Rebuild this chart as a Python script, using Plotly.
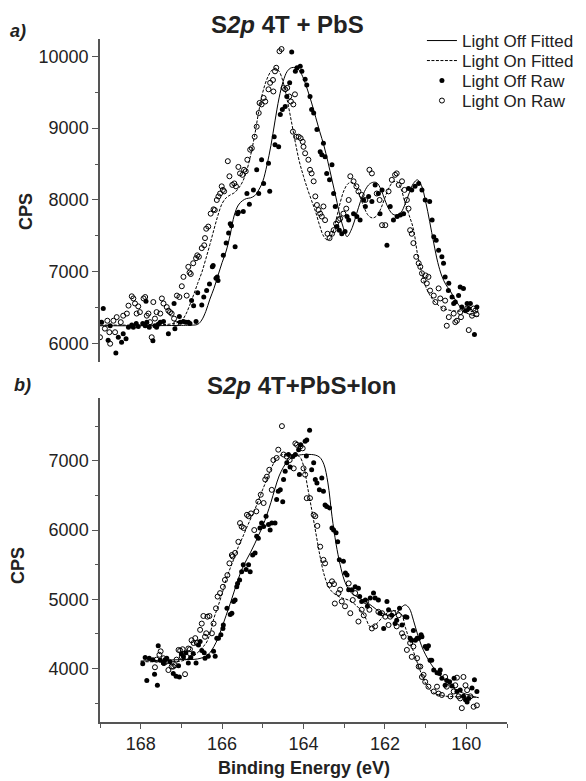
import plotly.graph_objects as go

# ---------------- panel a) S2p 4T + PbS ----------------
a_fit_off_x = [169.0, 168.0, 167.5, 167.0, 166.8, 166.6, 166.5, 166.4, 166.3, 166.2, 166.1, 166.0,
               165.9, 165.8, 165.7, 165.6, 165.5, 165.4, 165.3, 165.2, 165.1, 165.0, 164.9, 164.8,
               164.7, 164.6, 164.5, 164.4, 164.3, 164.2, 164.1, 164.0, 163.9, 163.8, 163.7, 163.6,
               163.5, 163.4, 163.3, 163.2, 163.1, 163.0, 162.93, 162.8, 162.7, 162.6, 162.5, 162.4,
               162.3, 162.2, 162.1, 162.0, 161.9, 161.8, 161.7, 161.6, 161.5, 161.4, 161.3, 161.2,
               161.1, 161.0, 160.9, 160.8, 160.7, 160.6, 160.5, 160.4, 160.3, 160.2, 160.1, 160.0,
               159.8, 159.7]
a_fit_off_y = [6250, 6250, 6252, 6255, 6258, 6270, 6330, 6450, 6620, 6770, 6950, 7130,
               7290, 7520, 7790, 7930, 7990, 8020, 8030, 8060, 8140, 8260, 8480, 8760,
               9100, 9420, 9650, 9790, 9840, 9840, 9800, 9690, 9530, 9350, 9150, 8950,
               8760, 8530, 8280, 8030, 7770, 7580, 7490, 7620, 7800, 7980, 8120, 8210,
               8245, 8240, 8150, 8000, 7870, 7800, 7790, 7830, 7950, 8100, 8230, 8280,
               8200, 7980, 7700, 7400, 7130, 6940, 6820, 6740, 6640, 6550, 6480, 6430,
               6390, 6380]

a_fit_on_x = [169.0, 168.0, 167.5, 167.2, 167.0, 166.9, 166.8, 166.7, 166.6, 166.5, 166.4, 166.3,
              166.2, 166.1, 166.0, 165.9, 165.8, 165.7, 165.6, 165.5, 165.4, 165.3, 165.2, 165.1,
              165.0, 164.9, 164.8, 164.7, 164.6, 164.5, 164.4, 164.3, 164.2, 164.1, 164.0, 163.9,
              163.8, 163.7, 163.6, 163.5, 163.4, 163.3, 163.2, 163.1, 163.0, 162.9, 162.8, 162.7,
              162.6, 162.5, 162.4, 162.3, 162.2, 162.1, 162.0, 161.9, 161.8, 161.7, 161.6, 161.5,
              161.4, 161.3, 161.2, 161.1, 161.0, 160.9, 160.8, 160.6, 160.4, 160.0, 159.7]
a_fit_on_y = [6260, 6260, 6265, 6280, 6320, 6400, 6530, 6680, 6840, 6990, 7180, 7380,
              7590, 7790, 7950, 8030, 8070, 8100, 8160, 8250, 8400, 8620, 8900, 9230,
              9500, 9680, 9790, 9835, 9790, 9640, 9390, 9100, 8800, 8530, 8330, 8150,
              7990, 7830, 7640, 7490, 7440, 7520, 7720, 7960, 8140, 8230, 8245, 8180,
              8030, 7880, 7780, 7750, 7780, 7880, 8030, 8170, 8250, 8255, 8150, 7950,
              7780, 7600, 7250, 7000, 6800, 6680, 6600, 6500, 6465, 6450, 6450]

a_raw_off_x = [168.96, 168.92, 168.80, 168.75, 168.61, 168.55, 168.47, 168.43, 168.36, 168.30,
               168.22, 168.18, 168.11, 168.06, 167.95, 167.89, 167.87, 167.85, 167.79, 167.70,
               167.65, 167.61, 167.57, 167.52, 167.44, 167.32, 167.18, 167.16, 167.05, 167.03,
               166.95, 166.89, 166.83, 166.79, 166.75, 166.70, 166.64, 166.60, 166.50, 166.45,
               166.38, 166.31, 166.24, 166.22, 166.15, 166.12, 166.10, 165.97, 165.90, 165.84,
               165.80, 165.77, 165.68, 165.62, 165.60, 165.48, 165.39, 165.33, 165.23, 165.15,
               165.10, 165.03, 164.98, 164.86, 164.83, 164.72, 164.70, 164.61, 164.57, 164.52,
               164.45, 164.41, 164.34, 164.29, 164.20, 164.16, 164.08, 164.04, 163.96, 163.92,
               163.84, 163.80, 163.75, 163.67, 163.59, 163.55, 163.51, 163.47, 163.43, 163.36,
               163.30, 163.26, 163.22, 163.18, 163.12, 163.06, 162.98, 162.93, 162.89, 162.77,
               162.69, 162.61, 162.52, 162.48, 162.40, 162.32, 162.24, 162.16, 162.12, 162.07,
               161.95, 161.87, 161.79, 161.70, 161.62, 161.54, 161.42, 161.34, 161.26, 161.17,
               161.09, 161.01, 160.90, 160.84, 160.80, 160.74, 160.68, 160.60, 160.56, 160.52,
               160.44, 160.43, 160.35, 160.31, 160.27, 160.19, 160.15, 160.11, 160.07, 160.02,
               159.98, 159.94, 159.90, 159.80, 159.74]
a_raw_off_y = [6300, 6490, 6050, 6250, 5870, 6090, 6020, 6140, 6070, 6230,
               6260, 6230, 6280, 6240, 6280, 6250, 6590, 6300, 6230, 6040,
               6250, 6230, 6270, 6300, 6310, 6140, 6560, 6210, 6380, 6300,
               6310, 6300, 6300, 6280, 6600, 6530, 6310, 6710, 6540, 6650,
               6740, 6830, 7070, 7090, 6910, 6930, 6880, 7230, 7400, 7540,
               7670, 7640, 7350, 7810, 7830, 7840, 8090, 7940, 8140, 8420,
               8090, 8560, 8230, 8510, 8120, 8880, 8770, 8740, 9190, 9260,
               9300, 9440, 9630, 10060, 9790, 9840, 9860, 9790, 9680, 9600,
               9440, 9260, 9210, 8980, 8670, 8630, 8790, 8600, 8370, 8280,
               8490, 8090, 7910, 7630, 7580, 7530, 7560, 7770, 7720, 7810,
               7770, 7720, 8000, 7910, 8050, 7980, 8210, 8090, 7810, 8140,
               7370, 7910, 7720, 7770, 7790, 7810, 8160, 8140, 8190, 8230,
               8140, 8000, 7980, 7720, 7490, 7440, 7300, 7210, 7120, 6930,
               6740, 6840, 6650, 6560, 6580, 6670, 6790, 6510, 6770, 6460,
               6560, 6490, 6560, 6130, 6510]

a_raw_on_x = [169.00, 168.88, 168.82, 168.77, 168.75, 168.67, 168.63, 168.59, 168.49, 168.43,
              168.34, 168.30, 168.22, 168.18, 168.14, 168.10, 168.06, 168.02, 167.93, 167.89,
              167.85, 167.81, 167.77, 167.73, 167.69, 167.65, 167.61, 167.52, 167.48, 167.44,
              167.36, 167.32, 167.28, 167.24, 167.18, 167.13, 167.11, 167.05, 166.99, 166.95,
              166.87, 166.83, 166.80, 166.77, 166.71, 166.64, 166.61, 166.57, 166.50, 166.44,
              166.42, 166.39, 166.34, 166.28, 166.21, 166.18, 166.13, 166.09, 166.05, 166.01,
              165.98, 165.95, 165.86, 165.82, 165.75, 165.70, 165.66, 165.60, 165.56, 165.50,
              165.46, 165.42, 165.38, 165.31, 165.27, 165.20, 165.15, 165.10, 165.08, 165.03,
              164.98, 164.94, 164.86, 164.82, 164.75, 164.74, 164.70, 164.67, 164.59, 164.54,
              164.49, 164.45, 164.40, 164.35, 164.31, 164.25, 164.21, 164.26, 164.18, 164.12,
              164.07, 164.02, 164.00, 163.96, 163.88, 163.84, 163.80, 163.75, 163.71, 163.67,
              163.63, 163.59, 163.55, 163.51, 163.47, 163.41, 163.36, 163.30, 163.26, 163.20,
              163.14, 163.10, 163.02, 162.95, 162.89, 162.85, 162.77, 162.70, 162.65, 162.57,
              162.48, 162.38, 162.32, 162.20, 162.13, 162.07, 161.99, 161.91, 161.83, 161.75,
              161.71, 161.66, 161.58, 161.52, 161.46, 161.42, 161.38, 161.34, 161.30, 161.23,
              161.17, 161.13, 161.09, 161.05, 161.00, 160.97, 160.93, 160.89, 160.80, 160.76,
              160.68, 160.64, 160.56, 160.52, 160.48, 160.43, 160.31, 160.27, 160.23, 160.15,
              160.13, 159.98, 159.94, 159.86, 159.82, 159.78, 159.75]
a_raw_on_y = [6090, 6210, 6320, 6160, 6000, 6320, 6160, 6370, 6300, 6390,
              6420, 6530, 6660, 6630, 6560, 6420, 6520, 6440, 6630, 6650,
              6390, 6420, 6300, 6090, 6580, 6350, 6440, 6420, 6630, 6560,
              6510, 6460, 6440, 6420, 6350, 6280, 6670, 6650, 6800, 6930,
              6670, 7070, 6990, 6970, 7120, 7190, 7230, 7210, 7330, 7370,
              7470, 7600, 7630, 7810, 7870, 7860, 8000, 8050, 8090, 8190,
              8140, 8120, 8540, 8330, 8210, 8230, 8190, 8460, 8370, 8350,
              8420, 8400, 8560, 8700, 8720, 8880, 9020, 9210, 9350, 9330,
              9420, 9370, 9540, 9630, 9670, 9510, 9790, 9840, 10070, 10100,
              9560, 9540, 9560, 9440, 9370, 9330, 9470, 8950, 8880, 8880,
              8860, 8810, 8740, 8650, 8560, 8420, 8370, 8260, 8050, 7930,
              7860, 7810, 7770, 7910, 7720, 7530, 7470, 7530, 7580, 7670,
              7720, 7740, 7810, 7880, 8000, 8330, 8260, 8190, 8120, 8070,
              8000, 8420, 8370, 8090, 8000, 7650, 7650, 8120, 8280, 8350,
              8370, 8210, 8260, 8140, 8000, 7880, 7580, 7530, 7400, 7210,
              7120, 7070, 6980, 6880, 6950, 6840, 6930, 6740, 6670, 6580,
              6770, 6630, 6490, 6600, 6250, 6370, 6420, 6300, 6320, 6440,
              6370, 6490, 6190, 6390, 6490, 6460, 6410]

# ---------------- panel b) S2p 4T+PbS+Ion ----------------
b_fit_off_x = [168.0, 167.5, 167.0, 166.6, 166.4, 166.3, 166.2, 166.1, 166.0, 165.9, 165.8, 165.7,
               165.6, 165.5, 165.4, 165.3, 165.2, 165.1, 165.0, 164.9, 164.8, 164.7, 164.6, 164.5,
               164.4, 164.3, 164.2, 164.0, 163.8, 163.7, 163.6, 163.5, 163.4, 163.3, 163.2, 163.1,
               163.0, 162.9, 162.8, 162.6, 162.4, 162.2, 162.0, 161.8, 161.7, 161.6, 161.5, 161.4,
               161.3, 161.2, 161.1, 161.0, 160.8, 160.6, 160.4, 160.2, 160.0, 159.8, 159.7]
b_fit_off_y = [4110, 4120, 4130, 4140, 4180, 4230, 4320, 4440, 4600, 4770, 4940, 5120,
               5300, 5450, 5570, 5680, 5800, 5930, 6060, 6220, 6400, 6600, 6780, 6900,
               6990, 7040, 7070, 7090, 7090, 7080, 7050, 6950, 6680, 6200, 5800, 5500,
               5280, 5150, 5080, 5010, 4940, 4850, 4780, 4760, 4810, 4880, 4920, 4870,
               4700, 4500, 4330, 4200, 4010, 3880, 3760, 3680, 3630, 3595, 3580]

b_fit_on_x = [168.0, 167.5, 167.0, 166.8, 166.6, 166.5, 166.4, 166.3, 166.2, 166.1, 166.0, 165.9,
              165.8, 165.7, 165.6, 165.5, 165.4, 165.3, 165.2, 165.1, 165.0, 164.9, 164.8, 164.7,
              164.6, 164.5, 164.3, 164.1, 164.0, 163.9, 163.8, 163.7, 163.6, 163.5, 163.4, 163.3,
              163.1, 162.9, 162.7, 162.5, 162.35, 162.2, 162.0, 161.8, 161.6, 161.5, 161.4, 161.3,
              161.2, 161.1, 161.0, 160.9, 160.8, 160.6, 160.0, 159.7]
b_fit_on_y = [4100, 4100, 4110, 4150, 4230, 4300, 4360, 4500, 4730, 4900, 5080, 5290,
              5450, 5600, 5760, 5890, 6030, 6160, 6290, 6440, 6590, 6730, 6880, 7000,
              7070, 7090, 7090, 7060, 6930, 6620, 6300, 5970, 5640, 5370, 5200, 5110,
              5030, 4990, 4910, 4760, 4600, 4650, 4780, 4840, 4790, 4600, 4420, 4250,
              4080, 3920, 3790, 3700, 3650, 3610, 3590, 3585]

b_raw_off_x = [167.95, 167.89, 167.85, 167.79, 167.70, 167.66, 167.59, 167.57, 167.52, 167.44,
               167.40, 167.36, 167.28, 167.20, 167.13, 167.07, 167.05, 167.00, 166.95, 166.89,
               166.83, 166.77, 166.71, 166.64, 166.58, 166.54, 166.50, 166.44, 166.42, 166.34,
               166.21, 166.17, 166.13, 166.09, 166.03, 165.98, 165.97, 165.88, 165.80, 165.76,
               165.72, 165.68, 165.64, 165.62, 165.57, 165.52, 165.48, 165.41, 165.35, 165.31,
               165.25, 165.19, 165.15, 165.11, 165.07, 165.03, 164.98, 164.92, 164.86, 164.82,
               164.78, 164.70, 164.66, 164.62, 164.57, 164.51, 164.49, 164.45, 164.41, 164.37,
               164.33, 164.26, 164.20, 164.12, 164.10, 164.07, 163.96, 163.93, 163.92, 163.85,
               163.80, 163.75, 163.71, 163.67, 163.61, 163.55, 163.51, 163.47, 163.43, 163.36,
               163.30, 163.26, 163.20, 163.16, 163.12, 163.02, 162.97, 162.93, 162.89, 162.81,
               162.73, 162.65, 162.62, 162.57, 162.48, 162.43, 162.36, 162.28, 162.24, 162.16,
               162.12, 162.03, 161.95, 161.91, 161.83, 161.75, 161.71, 161.64, 161.58, 161.50,
               161.46, 161.38, 161.34, 161.30, 161.25, 161.21, 161.17, 161.11, 161.09, 161.01,
               160.97, 160.93, 160.89, 160.85, 160.80, 160.72, 160.66, 160.64, 160.60, 160.52,
               160.48, 160.41, 160.35, 160.30, 160.23, 160.15, 160.07, 160.02, 159.98, 159.94,
               159.86, 159.80, 159.74]
b_raw_off_y = [4070, 4160, 3830, 4150, 4130, 3920, 3760, 4330, 4120, 4080,
               4130, 4150, 4100, 3930, 3890, 4040, 3880, 4210, 4170, 4230,
               4080, 4160, 4220, 4080, 4340, 4390, 4260, 4230, 4150, 4180,
               4250, 4180, 4440, 4440, 4490, 4580, 4630, 4870, 4780, 4800,
               4970, 4990, 5180, 5230, 5280, 5400, 5500, 5430, 5500, 5400,
               5640, 5670, 5910, 5880, 6030, 6100, 6050, 6200, 6080, 6000,
               6100, 6100, 6440, 6560, 6580, 6410, 6730, 6850, 6970, 7090,
               6910, 7060, 7090, 7160, 6800, 7230, 7280, 7070, 7300, 7440,
               6870, 6970, 6730, 6680, 6580, 6750, 6560, 6360, 6340, 6320,
               6030, 6000, 5960, 5830, 5570, 5550, 5380, 5350, 5140, 5140,
               5180, 5160, 5040, 4970, 4990, 4900, 5020, 5090, 5020, 4990,
               4800, 4580, 4970, 4850, 4770, 4650, 4700, 4870, 4630, 4750,
               4740, 4440, 4410, 4550, 4410, 4440, 4440, 4490, 4460, 4320,
               4290, 4330, 4120, 4120, 3980, 3940, 3930, 3980, 3860, 3760,
               3830, 3810, 3750, 3860, 3670, 3690, 3600, 3550, 3520, 3570,
               3720, 3840, 3670]

b_raw_on_x = [167.65, 167.61, 167.54, 167.51, 167.44, 167.43, 167.38, 167.32, 167.24, 167.20,
              167.16, 167.12, 167.07, 167.03, 166.99, 166.97, 166.91, 166.87, 166.83, 166.79,
              166.75, 166.70, 166.66, 166.62, 166.54, 166.50, 166.46, 166.42, 166.39, 166.36,
              166.31, 166.25, 166.21, 166.15, 166.11, 166.05, 165.98, 165.93, 165.87, 165.82,
              165.76, 165.74, 165.68, 165.60, 165.56, 165.52, 165.47, 165.39, 165.35, 165.29,
              165.21, 165.16, 165.11, 165.05, 164.98, 164.94, 164.90, 164.84, 164.78, 164.74,
              164.66, 164.62, 164.53, 164.49, 164.41, 164.34, 164.24, 164.20, 164.16, 164.07,
              164.02, 164.00, 163.96, 163.92, 163.84, 163.75, 163.71, 163.66, 163.59, 163.51,
              163.47, 163.36, 163.30, 163.25, 163.23, 163.14, 163.10, 163.06, 162.98, 162.89,
              162.85, 162.79, 162.73, 162.65, 162.57, 162.52, 162.46, 162.38, 162.32, 162.24,
              162.16, 162.07, 161.99, 161.91, 161.87, 161.79, 161.71, 161.66, 161.58, 161.54,
              161.46, 161.38, 161.34, 161.30, 161.21, 161.17, 161.13, 161.09, 161.05, 161.01,
              160.93, 160.80, 160.72, 160.68, 160.60, 160.52, 160.48, 160.39, 160.31, 160.27,
              160.23, 160.19, 160.15, 160.11, 160.07, 160.02, 159.98, 159.90, 159.82, 159.74]
b_raw_on_y = [4020, 4130, 4200, 4250, 4150, 4080, 4100, 3980, 4030, 4030,
              4050, 4130, 4270, 4260, 4170, 4280, 3920, 4170, 4290, 4280,
              4410, 4370, 4440, 4370, 4560, 4650, 4760, 4460, 4510, 4750,
              4760, 4510, 4650, 4870, 5040, 5090, 5180, 5280, 5350, 5520,
              5640, 5620, 5670, 5830, 6100, 6050, 6030, 6220, 6200, 6240,
              6000, 6270, 6410, 6510, 6390, 6730, 6770, 6870, 6580, 7010,
              7040, 7160, 7500, 7090, 7060, 7010, 6890, 7250, 7230, 7210,
              7180, 6890, 6800, 6460, 6460, 6220, 6200, 6060, 5760, 5570,
              5520, 5210, 5260, 5220, 4940, 5090, 5140, 4970, 4900, 5230,
              4800, 4990, 5090, 4680, 4850, 4770, 4970, 4850, 4580, 4610,
              4820, 4800, 4750, 4630, 4750, 4800, 4610, 4770, 4510, 4460,
              4270, 4370, 4170, 4320, 4150, 4030, 4030, 3880, 3910, 3810,
              3740, 3670, 3740, 3640, 3620, 3880, 3740, 3600, 3670, 3760,
              3870, 3600, 3570, 3430, 3880, 3760, 3690, 3600, 3450, 3470]

FONT = "Liberation Sans, Arial, Helvetica, sans-serif"
AX = "#555555"

fig = go.Figure()

panels = [
    ("x", "y", a_fit_off_x, a_fit_off_y, a_fit_on_x, a_fit_on_y,
     a_raw_off_x, a_raw_off_y, a_raw_on_x, a_raw_on_y, True),
    ("x2", "y2", b_fit_off_x, b_fit_off_y, b_fit_on_x, b_fit_on_y,
     b_raw_off_x, b_raw_off_y, b_raw_on_x, b_raw_on_y, False),
]

for xa, ya, fx, fy, nx, ny, ox, oy, px, py, leg in panels:
    fig.add_trace(go.Scatter(x=fx, y=fy, mode="lines", name="Light Off Fitted",
                             line=dict(color="black", width=1, shape="spline"),
                             xaxis=xa, yaxis=ya, showlegend=leg, legend="legend"))
    fig.add_trace(go.Scatter(x=nx, y=ny, mode="lines", name="Light On Fitted",
                             line=dict(color="black", width=1, dash="3px,1.5px", shape="spline"),
                             xaxis=xa, yaxis=ya, showlegend=leg, legend="legend2"))
    fig.add_trace(go.Scatter(x=ox, y=oy, mode="markers", name="Light Off Raw",
                             marker=dict(symbol="circle", size=5, color="black"),
                             xaxis=xa, yaxis=ya, showlegend=leg, legend="legend3"))
    fig.add_trace(go.Scatter(x=px, y=py, mode="markers", name="Light On Raw",
                             marker=dict(symbol="circle-open", size=5, color="black",
                                         line=dict(width=1, color="black")),
                             xaxis=xa, yaxis=ya, showlegend=leg, legend="legend4"))

yaxis_style = dict(showline=True, linecolor=AX, linewidth=1.5, ticks="outside",
                   ticklen=6, tickwidth=1.2, tickcolor=AX, dtick=1000, tick0=0,
                   tickformat="d",
                   minor=dict(dtick=500, ticks="outside", ticklen=3, tickcolor=AX, tickwidth=1),
                   showgrid=False, zeroline=False,
                   tickfont=dict(family=FONT, size=18, color="#222222"))

# one legend per row so the rows sit as tightly as in the original
legend_rows = [41, 61, 81, 101]
legends = {}
for i, row in enumerate(legend_rows):
    key = "legend" if i == 0 else "legend%d" % (i + 1)
    legends[key] = dict(x=0.791, y=1 + (39 - row) / 683, xanchor="left", yanchor="middle",
                        font=dict(family=FONT, size=17, color="#222222"),
                        bgcolor="rgba(0,0,0,0)", borderwidth=0)

fig.update_layout(
    width=586, height=781,
    margin=dict(l=100, r=79, t=39, b=59, autoexpand=False),
    paper_bgcolor="white", plot_bgcolor="white",
    font=dict(family=FONT, color="#222222"),
    xaxis=dict(domain=[0, 1], anchor="y", range=[169, 159], visible=False),
    yaxis=dict(domain=[0.527, 1], anchor="x", range=[5745, 10240], **yaxis_style),
    xaxis2=dict(domain=[0, 1], anchor="y2", range=[169, 159], matches="x",
                showline=True, linecolor=AX, linewidth=1.5, ticks="outside",
                ticklen=5, tickwidth=1.2, tickcolor=AX, dtick=2, tick0=0,
                minor=dict(dtick=1, ticks="outside", ticklen=4, tickcolor=AX, tickwidth=1),
                showgrid=False, zeroline=False,
                tickfont=dict(family=FONT, size=18, color="#222222")),
    yaxis2=dict(domain=[0, 0.4744], anchor="x2", range=[3230, 7906], **yaxis_style),
    showlegend=True,
    **legends,
)

annotations = [
    dict(text="<b>S<i>2p</i> 4T + PbS</b>", x=0.4607, y=1.0205, font=dict(size=24)),
    dict(text="<b>S<i>2p</i> 4T+PbS+Ion</b>", x=0.4939, y=0.4934, font=dict(size=24)),
    dict(text="<b><i>a)</i></b>", x=-0.2015, y=1.0117, font=dict(size=18)),
    dict(text="<b><i>b)</i></b>", x=-0.1916, y=0.4934, font=dict(size=18)),
    dict(text="<b>CPS</b>", x=-0.1818, y=0.7467, textangle=-90, font=dict(size=18)),
    dict(text="<b>CPS</b>", x=-0.2015, y=0.2299, textangle=-90, font=dict(size=18)),
    dict(text="<b>Binding Energy (eV)</b>", x=0.5012, y=-0.0673, font=dict(size=18)),
]
for a in annotations:
    a.update(xref="paper", yref="paper", showarrow=False, xanchor="center", yanchor="middle")
    a["font"].update(family=FONT, color="#222222")
fig.update_layout(annotations=annotations)

fig.write_html("out.html", config={"displayModeBar": False},
               post_script="document.body.style.margin='0';")
